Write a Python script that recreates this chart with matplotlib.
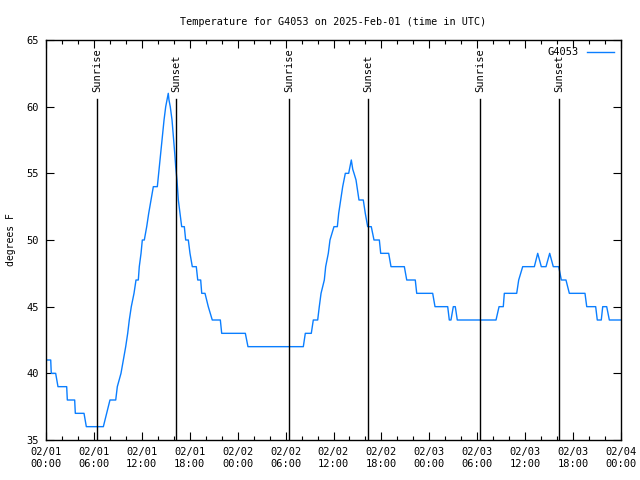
#!/usr/bin/env python3
"""
Temperature for station G4053 over three days, with sunrise/sunset markers
"""
import datetime as dt
import matplotlib
matplotlib.use('Agg')
import matplotlib.pyplot as plt
import matplotlib.dates as dts

STATION = 'G4053'
START = dt.datetime(2025, 2, 1)

# hours since 02/01 00:00 UTC and temperature (F)
hours = [0.00, 0.59, 0.66, 1.21, 1.50, 2.59, 2.67, 3.59, 3.67, 4.76,
         5.05, 7.18, 7.60, 8.01, 8.73, 8.93, 9.39, 9.68, 9.98, 10.23,
         10.43, 10.68, 11.02, 11.27, 11.56, 11.68, 11.90, 12.06, 12.31, 12.61,
         12.86, 13.15, 13.44, 13.94, 14.11, 14.28, 14.44, 14.61, 14.78, 14.99,
         15.15, 15.31, 15.40, 15.56, 15.78, 15.99, 16.12, 16.24, 16.40, 16.57,
         16.78, 16.99, 17.32, 17.49, 17.82, 18.03, 18.32, 18.82, 19.00, 19.37,
         19.50, 19.91, 20.32, 20.82, 21.83, 22.00, 24.96, 25.29, 32.22, 32.47,
         33.22, 33.47, 34.02, 34.22, 34.44, 34.85, 35.02, 35.35, 35.56, 36.06,
         36.48, 36.65, 36.90, 37.15, 37.48, 37.90, 38.07, 38.23, 38.41, 38.57,
         38.82, 38.94, 39.19, 39.73, 39.98, 40.28, 40.73, 41.07, 41.74, 41.91,
         42.91, 43.20, 44.87, 45.17, 46.24, 46.42, 48.42, 48.71, 50.30, 50.50,
         50.71, 51.00, 51.25, 51.50, 56.35, 56.73, 57.26, 57.39, 58.94, 59.19,
         59.69, 61.15, 61.57, 62.02, 62.61, 63.07, 63.52, 64.20, 64.53, 65.11,
         65.53, 67.49, 67.71, 68.83, 69.03, 69.53, 69.71, 70.21, 70.54, 72.00]
temps = [41, 41, 40, 40, 39, 39, 38, 38, 37, 37,
         36, 36, 37, 38, 38, 39, 40, 41, 42, 43,
         44, 45, 46, 47, 47, 48, 49, 50, 50, 51,
         52, 53, 54, 54, 55, 56, 57, 58, 59, 60,
         60.5, 61, 60.5, 60, 59, 57.5, 56.5, 55.5, 54.5, 53,
         52, 51, 51, 50, 50, 49, 48, 48, 47, 47,
         46, 46, 45, 44, 44, 43, 43, 42, 42, 43,
         43, 44, 44, 45, 46, 47, 48, 49, 50, 51,
         51, 52, 53, 54, 55, 55, 55.5, 56, 55.3, 55,
         54.5, 54, 53, 53, 52, 51, 51, 50, 50, 49,
         49, 48, 48, 47, 47, 46, 46, 45, 45, 44,
         44, 45, 45, 44, 44, 45, 45, 46, 46, 47,
         48, 48, 49, 48, 48, 49, 48, 48, 47, 47,
         46, 46, 45, 45, 44, 44, 45, 45, 44, 44]

sun_labels = ['Sunrise', 'Sunset', 'Sunrise', 'Sunset', 'Sunrise', 'Sunset']
sun_hours = [6.42, 16.32, 30.47, 40.36, 54.38, 64.28]

plt.rcParams['font.family'] = 'DejaVu Sans Mono'
plt.rcParams['font.size'] = 7

times = [START + dt.timedelta(hours=h) for h in hours]

fig = plt.figure(figsize=(6.4, 4.8), dpi=100)
ax = fig.add_axes([46 / 640, 40 / 480, 575 / 640, 400 / 480])

ax.plot(times, temps, color='#0a7eff', lw=1.0, label=STATION)

for lab, h in zip(sun_labels, sun_hours):
    t = START + dt.timedelta(hours=h)
    ax.plot([t, t], [35, 60.6], color='k', lw=1.0)
    ax.text(t, 61.1, lab, rotation=90, ha='center', va='bottom', fontsize=7.5)

ax.set_xlim(START, START + dt.timedelta(hours=72))
ax.set_ylim(35, 65)
ax.xaxis.set_major_locator(dts.HourLocator(byhour=range(0, 24, 6)))
ax.xaxis.set_minor_locator(dts.HourLocator(byhour=range(0, 24, 2)))
ax.xaxis.set_major_formatter(dts.DateFormatter('%m/%d\n%H:%M'))
ax.set_yticks(range(35, 66, 5))
ax.tick_params(which='both', direction='in', top=True, right=True,
               labelsize=7.5, width=0.8)
ax.tick_params(which='major', length=6, pad=5)
ax.tick_params(which='minor', length=3)
for s in ax.spines.values():
    s.set_linewidth(1.0)

ax.set_ylabel('degrees F')
ax.yaxis.set_label_coords(-0.052, 0.5)
ax.set_title('Temperature for {} on 2025-Feb-01 (time in UTC)'.format(STATION),
             pad=11, fontsize=7.3)
ax.legend(loc='upper right', frameon=False, markerfirst=False,
          handlelength=2.6, borderaxespad=0.3, fontsize=7.5)

fig.savefig('out.png', dpi=100)
plt.close(fig)
